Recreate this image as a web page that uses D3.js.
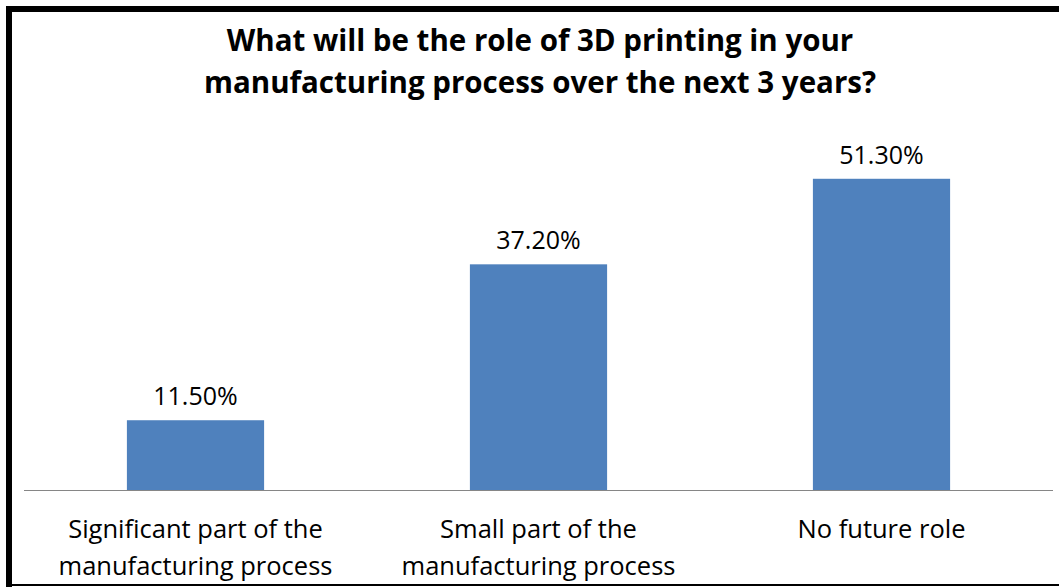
<!DOCTYPE html>
<html>
<head>
<meta charset="utf-8">
<script src="https://cdn.jsdelivr.net/npm/d3@7"></script>
<style>
  html, body { margin: 0; padding: 0; background: #fff; }
  svg { display: block; }
  text { font-family: "Open Sans", Lato, sans-serif; fill: #000; }
</style>
</head>
<body>
<svg id="chart" width="1059" height="587"></svg>
<script>
// Survey answers and their shares (%)
const categories = [
  ["Significant part of the", "manufacturing process"],
  ["Small part of the", "manufacturing process"],
  ["No future role"]
];
const values = [11.5, 37.2, 51.3];
const titleLines = [
  "What will be the role of 3D printing in your",
  "manufacturing process over the next 3 years?"
];

const W = 1059, H = 587;
const svg = d3.select("#chart");

// Frame: heavy top/left edges, thin bottom edge
svg.append("rect").attr("x", 0).attr("y", 0).attr("width", W).attr("height", H).attr("fill", "#fff");
svg.append("rect").attr("x", 6).attr("y", 6).attr("width", W - 6).attr("height", 6).attr("fill", "#000");
svg.append("rect").attr("x", 6).attr("y", 6).attr("width", 6).attr("height", H - 6).attr("fill", "#000");
svg.append("rect").attr("x", 6).attr("y", 584).attr("width", W - 6).attr("height", 2).attr("fill", "#000");

const margin = { left: 24, right: 6, top: 126, bottom: 97 };
const x = d3.scaleBand()
  .domain(d3.range(values.length))
  .range([margin.left, W - margin.right])
  .paddingInner(0.6)
  .paddingOuter(0.3);
const y = d3.scaleLinear().domain([0, 60]).range([H - margin.bottom, margin.top]);

// Title
svg.append("text")
  .attr("text-anchor", "middle")
  .style("font-weight", "bold")
  .style("font-size", "29.5px")
  .selectAll("tspan")
  .data(titleLines)
  .join("tspan")
  .attr("x", 540)
  .attr("y", (d, i) => 51 + i * 42)
  .text(d => d);

// Bars
svg.append("g")
  .selectAll("rect")
  .data(values)
  .join("rect")
  .attr("x", (d, i) => x(i))
  .attr("width", x.bandwidth())
  .attr("y", d => y(d))
  .attr("height", d => y(0) - y(d))
  .attr("fill", "#4f81bd");

// Value labels
svg.append("g")
  .selectAll("text")
  .data(values)
  .join("text")
  .attr("x", (d, i) => x(i) + x.bandwidth() / 2)
  .attr("y", d => y(d) - 15)
  .attr("text-anchor", "middle")
  .style("font-size", "25px")
  .text(d => d3.format(".2f")(d) + "%");

// Category axis
const axis = d3.axisBottom(x).tickSize(0).tickFormat("");
const gAxis = svg.append("g")
  .attr("transform", `translate(0,${y(0)})`)
  .call(axis);
gAxis.select(".domain").attr("stroke", "#868686").attr("stroke-width", 1.2)
  .attr("d", `M${margin.left},0.5H${W - margin.right}`);

svg.append("g")
  .selectAll("text")
  .data(categories)
  .join("text")
  .attr("text-anchor", "middle")
  .style("font-size", "25.5px")
  .each(function (lines, i) {
    d3.select(this).selectAll("tspan")
      .data(lines)
      .join("tspan")
      .attr("x", x(i) + x.bandwidth() / 2)
      .attr("y", (d, j) => y(0) + 48 + j * 37)
      .text(d => d);
  });
</script>
</body>
</html>
